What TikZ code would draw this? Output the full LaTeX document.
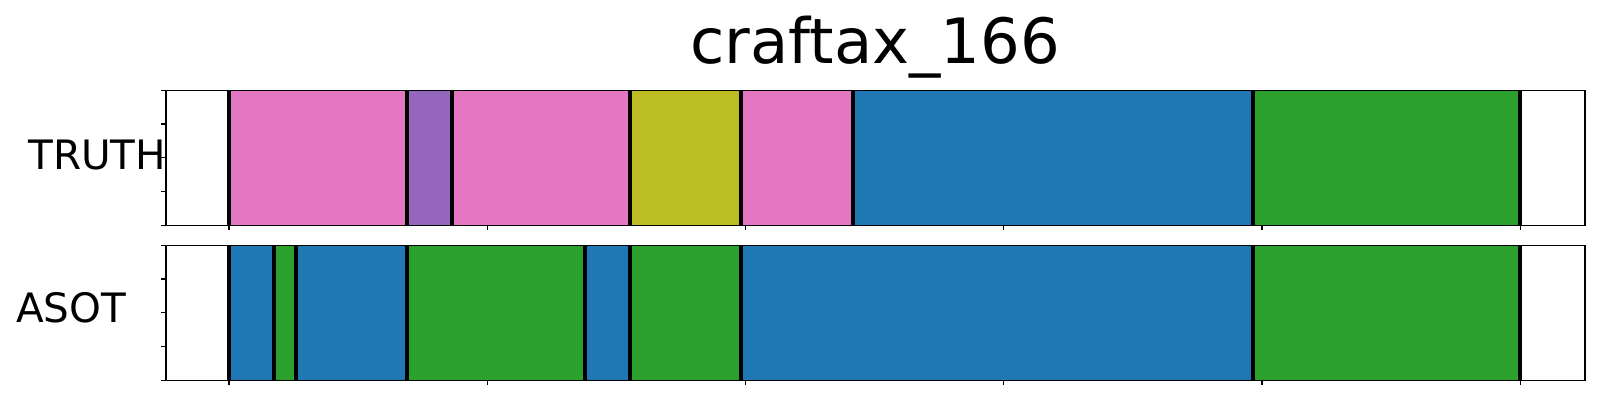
\documentclass[tikz,border=0pt]{standalone}
\usepackage{fontspec}
\setmainfont{DejaVu Sans}
\definecolor{tpink}{HTML}{E377C2}
\definecolor{tpurple}{HTML}{9467BD}
\definecolor{tolive}{HTML}{BCBD22}
\definecolor{tblue}{HTML}{1F77B4}
\definecolor{tgreen}{HTML}{2CA02C}
\tikzset{
  bnd/.style={line width=4pt, black},
  frame/.style={line width=1.6pt, black},
  tck/.style={line width=1.2pt, black},
  lbl/.style={inner sep=0pt, anchor=base, font=\fontsize{40.5}{41}\selectfont},
  ttl/.style={inner sep=0pt, anchor=base, font=\fontsize{62.5}{64}\selectfont}
}
\begin{document}
\begin{tikzpicture}[x=1pt,y=-1pt]
\useasboundingbox (0,0) rectangle (1600,400);
% title
\node[ttl] (title) at (875.3,63.3) {craftax\_166};
\node[lbl] (truth) at (97.3,169.3) {TRUTH};
\node[lbl] (asot) at (71.2,322.7) {ASOT};
% top row segments
\def\ta{90.3}\def\tb{225.3}
\fill[tpink]   (229,\ta) rectangle (406.8,\tb);
\fill[tpurple] (406.8,\ta) rectangle (451.8,\tb);
\fill[tpink]   (451.8,\ta) rectangle (630.2,\tb);
\fill[tolive]  (630.2,\ta) rectangle (740.8,\tb);
\fill[tpink]   (740.8,\ta) rectangle (852.8,\tb);
\fill[tblue]   (852.8,\ta) rectangle (1252.8,\tb);
\fill[tgreen]  (1252.8,\ta) rectangle (1520,\tb);
\foreach \x in {229,406.8,451.8,630.2,740.8,852.8,1252.8,1520}
  \draw[bnd] (\x,\ta) -- (\x,\tb);
% bottom row segments
\def\ba{245.3}\def\bb{380.3}
\fill[tblue]   (229,\ba) rectangle (273.8,\bb);
\fill[tgreen]  (273.8,\ba) rectangle (295.8,\bb);
\fill[tblue]   (295.8,\ba) rectangle (406.8,\bb);
\fill[tgreen]  (406.8,\ba) rectangle (584.8,\bb);
\fill[tblue]   (584.8,\ba) rectangle (630.2,\bb);
\fill[tgreen]  (630.2,\ba) rectangle (740.8,\bb);
\fill[tblue]   (740.8,\ba) rectangle (1252.8,\bb);
\fill[tgreen]  (1252.8,\ba) rectangle (1520,\bb);
\foreach \x in {229,273.8,295.8,406.8,584.8,630.2,740.8,1252.8,1520}
  \draw[bnd] (\x,\ba) -- (\x,\bb);
% frames
\draw[frame] (165.7,\ta) rectangle (1585,\tb);
\draw[frame] (165.7,\ba) rectangle (1585,\bb);
% ticks
\foreach \i in {0,...,4} {
  \draw[tck] (165.7,{\ta+\i*33.75}) -- ++(-4.7,0);
  \draw[tck] (165.7,{\ba+\i*33.75}) -- ++(-4.7,0);
}
\foreach \i in {0,...,5} {
  \draw[tck] ({229+\i*258.26},\tb) -- ++(0,4.7);
  \draw[tck] ({229+\i*258.26},\bb) -- ++(0,4.7);
}
\end{tikzpicture}
\end{document}
